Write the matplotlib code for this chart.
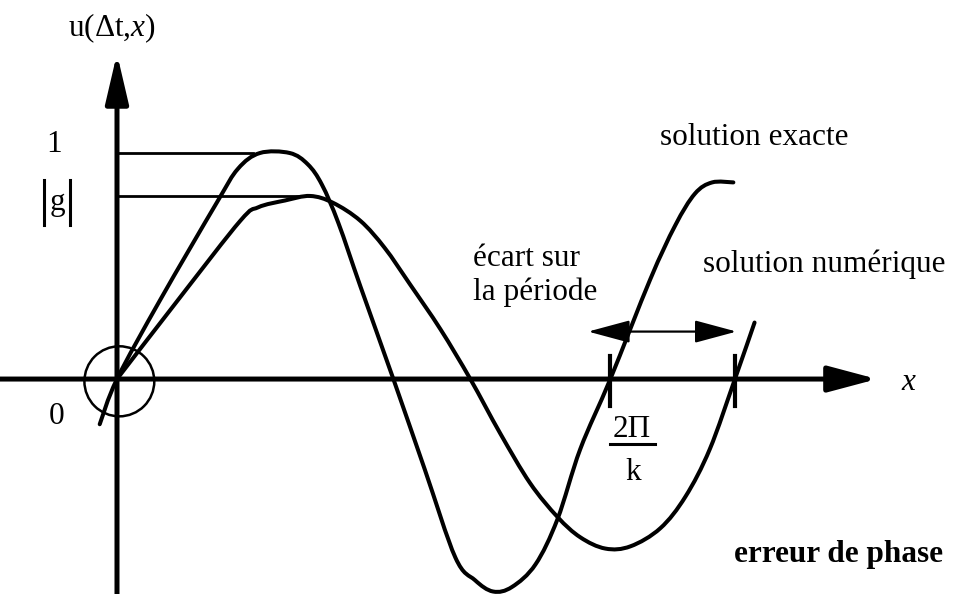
import numpy as np
import matplotlib.pyplot as plt
from matplotlib.patches import Ellipse, PathPatch
from matplotlib.path import Path
from matplotlib.lines import Line2D

plt.rcParams['font.family'] = ['Liberation Serif', 'DejaVu Serif']
plt.rcParams['mathtext.fontset'] = 'custom'
plt.rcParams['mathtext.rm'] = 'Liberation Serif'
plt.rcParams['mathtext.it'] = 'Liberation Serif:italic'

########################################
# courbes (x en unites de k*x, periode exacte = 2*pi)

x_exacte = [-0.22, 0.0, 0.55, 1.27, 1.54, 1.82, 2.20, 2.43, 2.61, 2.82, 3.10,
            3.52, 3.92, 4.31, 4.56, 4.79, 5.03, 5.33, 5.61, 5.90, 2 * np.pi,
            6.79, 7.11, 7.36, 7.58, 7.85]
u_exacte = [-0.20, 0.0, 0.35, 0.78, 0.93, 1.00, 1.00, 0.95, 0.86, 0.69, 0.41,
            0.0, -0.40, -0.79, -0.89, -0.94, -0.92, -0.82, -0.62, -0.31, 0.0,
            0.44, 0.68, 0.82, 0.87, 0.87]

x_num = [0.0, 0.80, 1.57, 1.80, 2.14, 2.46, 2.75, 3.10, 3.41, 3.73, 4.12,
         4.50, 4.88, 5.26, 5.61, 5.90, 6.22, 6.54, 6.92, 7.24, 7.55, 7.87, 8.12]
u_num = [0.0, 0.36, 0.70, 0.76, 0.79, 0.81, 0.78, 0.70, 0.58, 0.42, 0.22,
         0.0, -0.24, -0.46, -0.61, -0.70, -0.75, -0.74, -0.66, -0.52, -0.31, 0.0, 0.25]

g = 0.81                      # amplitude numerique |g|
periode_exacte = 2 * np.pi    # 2Pi/k
periode_num = 7.87

fs = 22.5


def pos(px, py):
    # position en fraction de figure (pixels depuis le coin haut gauche)
    return px / 954, 1 - py / 594


def courbe_lisse(x, y):
    # chemin de Bezier (Catmull-Rom) passant par tous les points
    p = np.column_stack([x, y])
    q = np.vstack([p[0], p, p[-1]])
    verts = [p[0]]
    codes = [Path.MOVETO]
    for i in range(1, len(q) - 2):
        c1 = q[i] + (q[i + 1] - q[i - 1]) / 6
        c2 = q[i + 1] - (q[i + 2] - q[i]) / 6
        verts += [c1, c2, q[i + 1]]
        codes += [Path.CURVE4] * 3
    return Path(verts, codes)


fig = plt.figure(figsize=(9.54, 5.94), dpi=100)
ax = fig.add_axes([0, 0, 1, 1])
ax.set_xlim(-1.49, 10.66)
ax.set_ylim(-0.951, 1.677)
ax.axis('off')

# axes avec fleches
ax.annotate('', xy=(9.68, 0), xytext=(-1.49, 0),
            arrowprops=dict(arrowstyle='-|>,head_length=3.0,head_width=0.8',
                            lw=3.6, color='black', fc='black',
                            shrinkA=0, shrinkB=0))
ax.annotate('', xy=(0, 1.44), xytext=(0, -0.951),
            arrowprops=dict(arrowstyle='-|>,head_length=3.0,head_width=0.7',
                            lw=3.6, color='black', fc='black',
                            shrinkA=0, shrinkB=0))

# courbes
for xs, ys in [(x_exacte, u_exacte), (x_num, u_num)]:
    ax.add_patch(PathPatch(courbe_lisse(xs, ys), fill=False, ec='black', lw=2.9,
                           capstyle='round', joinstyle='round'))

# niveaux 1 et |g|
ax.plot([0, 1.73], [1.0, 1.0], color='black', lw=2.0)
ax.plot([0, 2.37], [g, g], color='black', lw=2.0)

# cercle autour de l'origine
ax.add_patch(Ellipse((0.03, -0.01), 0.89, 0.31, fill=False, ec='black', lw=1.8))

# reperes des periodes
for xp in [periode_exacte, periode_num]:
    ax.plot([xp, xp], [0.10, -0.12], color='black', lw=3.0)

# ecart sur la periode
ax.annotate('', xy=(periode_num + 0.02, 0.21), xytext=(6.0, 0.21),
            arrowprops=dict(arrowstyle='<|-|>,head_length=2.6,head_width=0.7',
                            lw=1.6, color='black', fc='black',
                            shrinkA=0, shrinkB=0))

# textes
fig.text(*pos(112, 28), r'$\mathrm{u(\Delta t{,}}x\mathrm{)}$', fontsize=fs,
         ha='center', va='center')
fig.text(*pos(54, 152), '1', fontsize=fs, ha='center', va='baseline')
fig.text(*pos(57, 203), 'g', fontsize=fs, ha='center', va='center')
for bx in [44, 70]:
    xb, yb0 = pos(bx, 180)
    _, yb1 = pos(bx, 225)
    fig.add_artist(Line2D([xb, xb], [yb0, yb1], color='black', lw=2.2))
fig.text(*pos(57, 416), '0', fontsize=fs, ha='center', va='center')
fig.text(*pos(908, 383), 'x', fontsize=fs, style='italic', ha='center', va='center')

fig.text(*pos(660, 145), 'solution exacte', fontsize=fs, ha='left', va='baseline')
fig.text(*pos(703, 272), 'solution numérique', fontsize=fs, ha='left', va='baseline')
fig.text(*pos(473, 266), 'écart sur', fontsize=fs, ha='left', va='baseline')
fig.text(*pos(473, 300), 'la période', fontsize=fs, ha='left', va='baseline')

fig.text(*pos(632, 437), '2Π', fontsize=fs, ha='center', va='baseline')
x0, y0 = pos(610, 444)
x1, _ = pos(655, 444)
fig.add_artist(Line2D([x0, x1], [y0, y0], color='black', lw=2.2))
fig.text(*pos(633, 480), 'k', fontsize=fs, ha='center', va='baseline')

fig.text(*pos(943, 562), 'erreur de phase', fontsize=fs, fontweight='bold',
         ha='right', va='baseline')

fig.savefig('out.png', dpi=100, facecolor='white')
